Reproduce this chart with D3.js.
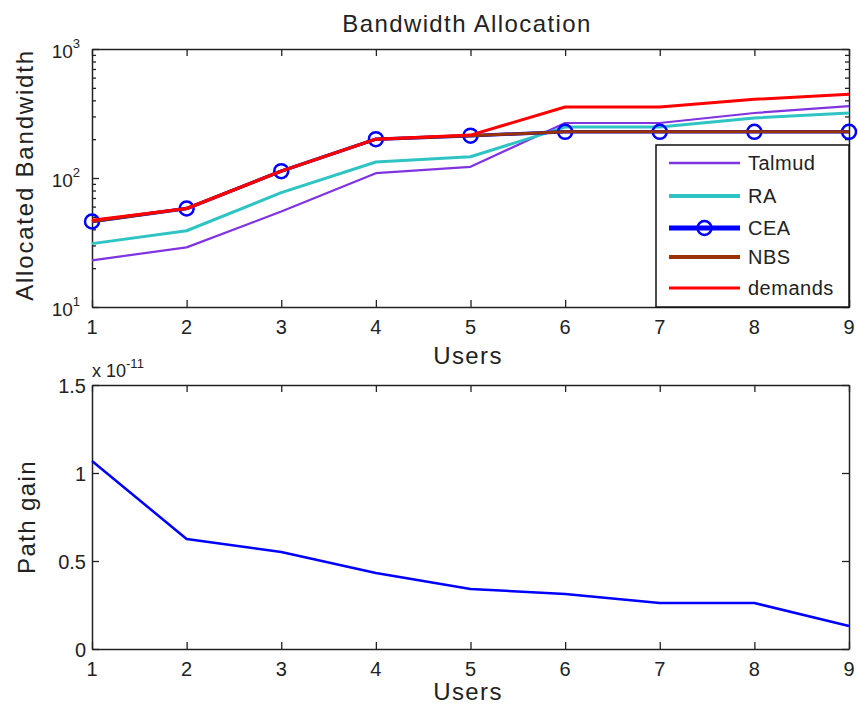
<!DOCTYPE html>
<html>
<head>
<meta charset="utf-8">
<script src="https://cdn.jsdelivr.net/npm/d3@7"></script>
<style>
  body { margin: 0; background: #fff; }
  svg { display: block; }
  text { font-family: "Liberation Sans", Arial, sans-serif; fill: #222; }
  .domain { stroke: #222; stroke-width: 1.5; }
  .tick line { stroke: #222; stroke-width: 1.3; }
</style>
</head>
<body>
<svg width="858" height="706"></svg>
<script>
// --- data ---
var users = [1, 2, 3, 4, 5, 6, 7, 8, 9];
var talmud  = [23, 29, 55, 109, 122, 267, 267, 319, 361];
var ra      = [31, 39, 77, 133, 146, 248, 248, 292, 319];
var cea     = [46, 58, 113, 200, 213, 228, 228, 228, 228];
var nbs     = [46, 58, 113, 200, 213, 228, 228, 228, 228];
var demands = [47, 58, 113, 200, 215, 355, 355, 407, 446];
var pathGain = [1.068, 0.625, 0.551, 0.432, 0.341, 0.313, 0.261, 0.261, 0.131]; // x 1e-11

var logTicks = [10, 100, 1000];
var gainTicks = [0, 0.5, 1, 1.5];

var svg = d3.select("svg");

var x = d3.scaleLinear().domain([1, 9]).range([92, 849]);
var yTop = d3.scaleLog().domain([10, 1000]).range([307, 49]);
var yBot = d3.scaleLinear().domain([0, 1.5]).range([649, 385]);

var minorTicks = [];
[10, 100].forEach(function(b) {
  for (var k = 2; k <= 9; k++) minorTicks.push(b * k);
});

function frame(y, top, bottom, yTickVals) {
  var g = svg.append("g");
  // box with inward ticks on all four sides
  g.append("g").attr("transform", "translate(0," + bottom + ")")
    .call(d3.axisBottom(x).tickValues(users).tickSizeInner(-7).tickSizeOuter(0).tickFormat(""));
  g.append("g").attr("transform", "translate(0," + top + ")")
    .call(d3.axisTop(x).tickValues(users).tickSizeInner(-7).tickSizeOuter(0).tickFormat(""));
  g.append("g").attr("transform", "translate(" + x(1) + ",0)")
    .call(d3.axisLeft(y).tickValues(yTickVals).tickSizeInner(-7).tickSizeOuter(0).tickFormat(""));
  g.append("g").attr("transform", "translate(" + x(9) + ",0)")
    .call(d3.axisRight(y).tickValues(yTickVals).tickSizeInner(-7).tickSizeOuter(0).tickFormat(""));
  g.selectAll(".tick text").remove();
  return g;
}

function label(txt, px, py, size, opts) {
  opts = opts || {};
  var t = svg.append("text")
    .attr("x", px).attr("y", py)
    .style("font-size", size + "px")
    .style("letter-spacing", (opts.ls || 0) + "px")
    .attr("text-anchor", opts.anchor || "middle")
    .text(txt);
  if (opts.rotate) t.attr("transform", "rotate(-90," + px + "," + py + ")");
  return t;
}

// ===== top panel =====
var gTop = frame(yTop, 49, 307, logTicks);
// minor log ticks on both sides
gTop.append("g").attr("transform", "translate(" + x(1) + ",0)")
  .call(d3.axisLeft(yTop).tickValues(minorTicks).tickSizeInner(-4).tickSizeOuter(0).tickFormat(""))
  .select(".domain").remove();
gTop.append("g").attr("transform", "translate(" + x(9) + ",0)")
  .call(d3.axisRight(yTop).tickValues(minorTicks).tickSizeInner(-4).tickSizeOuter(0).tickFormat(""))
  .select(".domain").remove();

var lineTop = d3.line()
  .x(function(d, i) { return x(users[i]); })
  .y(function(d) { return yTop(d); });

var series = [
  { name: "Talmud",  values: talmud,  color: "#8033e0", width: 2.2, legendWidth: 2.5 },
  { name: "RA",      values: ra,      color: "#2fc4c4", width: 3,   legendWidth: 4 },
  { name: "CEA",     values: cea,     color: "#0000ff", width: 3.5, legendWidth: 5, marker: true },
  { name: "NBS",     values: nbs,     color: "#993300", width: 3,   legendWidth: 4 },
  { name: "demands", values: demands, color: "#ff0000", width: 3,   legendWidth: 3 }
];

var plot = svg.append("g");
series.forEach(function(s) {
  plot.append("path")
    .datum(s.values)
    .attr("fill", "none")
    .attr("stroke", s.color)
    .attr("stroke-width", s.width)
    .attr("stroke-linejoin", "round")
    .attr("d", lineTop);
  if (s.marker) {
    plot.selectAll(".mk").data(s.values).enter().append("circle")
      .attr("cx", function(d, i) { return x(users[i]); })
      .attr("cy", function(d) { return yTop(d); })
      .attr("r", 7)
      .attr("fill", "none")
      .attr("stroke", s.color)
      .attr("stroke-width", 2.5);
  }
});

// log tick labels
logTicks.forEach(function(v, i) {
  var t = svg.append("text")
    .attr("x", 80).attr("y", yTop(v) + 9)
    .attr("text-anchor", "end")
    .style("font-size", "19px");
  t.append("tspan").text("10");
  t.append("tspan").attr("dy", -10).style("font-size", "13px").text(String(i + 1));
});

users.forEach(function(u) {
  label(String(u), x(u), 334, 20);
  label(String(u), x(u), 676, 20);
});

label("Bandwidth Allocation", 467, 32, 24, { ls: 1.4 });
label("Users", 468, 364, 24, { ls: 1.4 });
label("Allocated Bandwidth", 33, 175, 24, { ls: 1.8, rotate: true });

// legend
var leg = svg.append("g");
leg.append("rect")
  .attr("x", 656).attr("y", 145).attr("width", 193).attr("height", 162)
  .attr("fill", "#fff").attr("stroke", "#111").attr("stroke-width", 1.5);
var legY = [163, 196, 228, 257, 288];
series.forEach(function(s, i) {
  leg.append("line")
    .attr("x1", 669).attr("x2", 740)
    .attr("y1", legY[i]).attr("y2", legY[i])
    .attr("stroke", s.color).attr("stroke-width", s.legendWidth);
  if (s.marker) {
    leg.append("circle").attr("cx", 704.5).attr("cy", legY[i]).attr("r", 7)
      .attr("fill", "none").attr("stroke", s.color).attr("stroke-width", 2.5);
  }
  leg.append("text")
    .attr("x", 748).attr("y", legY[i] + 7)
    .style("font-size", "20px")
    .style("letter-spacing", "0.5px")
    .text(s.name);
});

// ===== bottom panel =====
frame(yBot, 385, 649, gainTicks);

svg.append("path")
  .datum(pathGain)
  .attr("fill", "none")
  .attr("stroke", "#0000ff")
  .attr("stroke-width", 2.5)
  .attr("stroke-linejoin", "round")
  .attr("d", d3.line()
    .x(function(d, i) { return x(users[i]); })
    .y(function(d) { return yBot(d); }));

gainTicks.forEach(function(v) {
  label(String(v), 86, yBot(v) + 8, 20, { anchor: "end" });
});

var exp = svg.append("text").attr("x", 92).attr("y", 377).style("font-size", "18px");
exp.append("tspan").text("x 10");
exp.append("tspan").attr("dy", -9).style("font-size", "13px").text("-11");

label("Users", 468, 700, 24, { ls: 1.4 });
label("Path gain", 35, 517, 24, { ls: 1.4, rotate: true });
</script>
</body>
</html>
